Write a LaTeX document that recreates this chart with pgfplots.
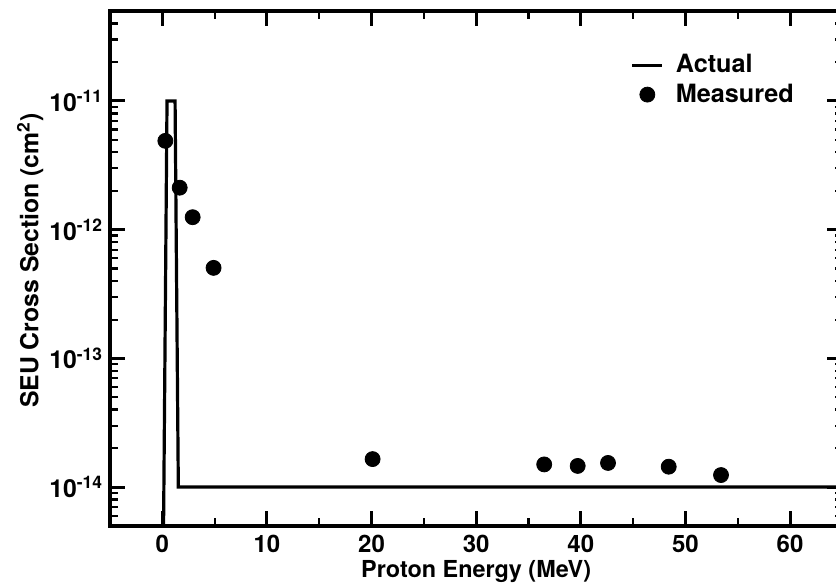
\documentclass[border=0pt]{standalone}
\usepackage{fontspec}
\setmainfont{TeX Gyre Heros}
\usepackage{pgfplots}
\pgfplotsset{compat=1.18}

\newcommand{\dexp}[1]{10\textsuperscript{#1}}

% short legend samples: a 15pt line, and a single centred mark
\pgfplotsset{
  shortline/.style={legend image code/.code={\draw[##1] (0pt,0pt) -- (15pt,0pt);}},
  onemark/.style={legend image code/.code={\draw[##1] plot coordinates {(7.5pt,0pt)};
    \path (0pt,0pt) (15pt,0pt);}},
}

\begin{document}
\begin{tikzpicture}
\begin{axis}[
  scale only axis,
  width=366.2pt, height=257.4pt,
  xmin=-5, xmax=65,
  ymode=log, ymin=5e-15, ymax=5e-11,
  axis line style={line width=1.9pt},
  major tick style={line width=1.5pt, black},
  minor tick style={line width=1.1pt, black},
  major tick length=7.5pt, minor tick length=3.8pt,
  tick align=inside,
  xtick={0,10,20,30,40,50,60},
  minor xtick={5,15,25,35,45,55},
  ytick={1e-14,1e-13,1e-12,1e-11},
  yticklabels={\dexp{-14},\dexp{-13},\dexp{-12},\dexp{-11}},
  minor ytick={6e-15,7e-15,8e-15,9e-15,
               2e-14,3e-14,4e-14,5e-14,6e-14,7e-14,8e-14,9e-14,
               2e-13,3e-13,4e-13,5e-13,6e-13,7e-13,8e-13,9e-13,
               2e-12,3e-12,4e-12,5e-12,6e-12,7e-12,8e-12,9e-12,
               2e-11,3e-11,4e-11},
  /pgf/number format/assume math mode=true,
  xticklabel style={font=\fontsize{12}{14}\selectfont\bfseries, yshift=-1pt},
  yticklabel style={font=\fontsize{12.4}{14}\selectfont\bfseries},
  xlabel={Proton Energy (MeV)},
  ylabel={SEU Cross Section (cm\textsuperscript{2})},
  xlabel style={font=\fontsize{11.7}{14}\selectfont\bfseries,
    at={(axis description cs:0.5,0)}, anchor=north, yshift=-14pt},
  ylabel style={font=\fontsize{12.4}{14}\selectfont\bfseries,
    at={(axis description cs:-0.109,0.515)}, anchor=center},
  legend style={draw=none, fill=none, at={(0.7105,0.924)}, anchor=north west,
    font=\fontsize{12.6}{15}\selectfont\bfseries, inner sep=0pt,
    column sep=4pt, row sep=0pt},
  legend cell align=left,
]
% ideal step response of the cross section
\addplot[black, line width=1.6pt, shortline] coordinates {
  (0.12,5e-15) (0.45,1e-11) (1.22,1e-11) (1.53,1e-14) (65,1e-14)
};
\addlegendentry{Actual}
% measured cross sections
\addplot[only marks, mark=*, mark size=3.75pt, black, onemark] coordinates {
  (0.29,4.9e-12) (1.66,2.12e-12) (2.9,1.25e-12) (4.9,5.05e-13)
  (20.1,1.65e-14) (36.5,1.50e-14) (39.7,1.46e-14) (42.6,1.54e-14)
  (48.4,1.44e-14) (53.4,1.24e-14)
};
\addlegendentry{Measured}
\end{axis}
\pgfresetboundingbox
\path[use as bounding box] (-55pt,-28.2pt) rectangle (363pt,262.9pt);
\end{tikzpicture}
\end{document}
